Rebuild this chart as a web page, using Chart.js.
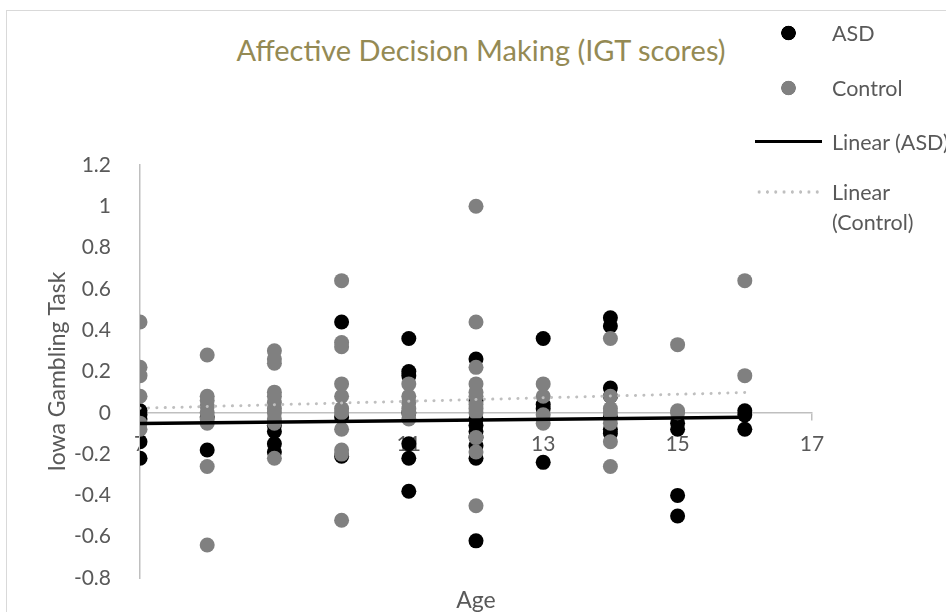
<!DOCTYPE html>
<html>
<head>
<meta charset="utf-8">
<script src="https://cdn.jsdelivr.net/npm/chart.js@4.4.1/dist/chart.umd.min.js"></script>
<style>
  html, body { margin: 0; padding: 0; background: #fff; }
  #wrap { position: relative; width: 946px; height: 612px; overflow: hidden; font-family: Lato, sans-serif; }
  #frame { position: absolute; left: 6px; top: 10px; width: 1200px; height: 900px; border: 1px solid #d9d9d9; }
  #chartTitle { position: absolute; left: 0; width: 962px; top: 32px; text-align: center; font-size: 29px; line-height: 36px; color: #948a54; white-space: nowrap; }
  #legend { position: absolute; left: 0; top: 0; }
  .item { position: absolute; left: 755px; height: 24px; white-space: nowrap; color: #595959; font-size: 21.5px; }
  .item .mark { position: absolute; left: 0; top: 0; width: 67px; height: 24px; }
  .item .txt { position: absolute; left: 77px; top: 0; line-height: 24px; }
  canvas { position: absolute; left: 0; top: 0; }
</style>
</head>
<body>
<div id="wrap">
  <div id="frame"></div>
  <div id="chartTitle">Affective Decision Making (IGT scores)</div>
  <canvas id="igtChart" width="946" height="612"></canvas>
  <div id="legend"></div>
</div>
<script>
// IGT scores, one list per age
const ages = [7, 8, 9, 10, 11, 12, 13, 14, 15, 16];
const asdScores = [
  [0.01, -0.01, -0.03, -0.14, -0.22],
  [-0.02, -0.18],
  [-0.06, -0.09, -0.15, -0.19],
  [0.44, -0.02, -0.21],
  [0.36, 0.20, 0.18, 0.0, -0.15, -0.22, -0.38],
  [0.26, 0.06, -0.03, -0.06, -0.09, -0.12, -0.16, -0.22, -0.62],
  [0.36, 0.04, 0.02, -0.24],
  [0.46, 0.42, 0.12, 0.08, -0.02, -0.08, -0.10],
  [-0.05, -0.08, -0.40, -0.50],
  [0.01, -0.01, -0.08]
];
const controlScores = [
  [0.44, 0.22, 0.18, 0.08, -0.05, -0.08],
  [0.28, 0.08, 0.06, 0.03, 0.0, -0.03, -0.05, -0.26, -0.64],
  [0.30, 0.26, 0.24, 0.10, 0.08, 0.05, 0.02, 0.0, -0.03, -0.05, -0.22],
  [0.64, 0.34, 0.32, 0.14, 0.08, 0.02, 0.0, -0.08, -0.18, -0.20, -0.52],
  [0.14, 0.08, 0.05, 0.02, 0.0, -0.03],
  [1.0, 0.44, 0.22, 0.14, 0.10, 0.08, 0.04, 0.02, 0.0, -0.12, -0.19, -0.45],
  [0.14, 0.08, -0.01, -0.05],
  [0.36, 0.08, 0.02, 0.0, -0.05, -0.14, -0.26],
  [0.33, 0.01, 0.0],
  [0.64, 0.18]
];

// trendline ends (Excel linear fits)
const trendAges = [7, 16];
const asdTrend = [-0.052, -0.022];
const controlTrend = [0.022, 0.098];

const xTicks = [7, 9, 11, 13, 15, 17];
const yTicks = [-0.8, -0.6, -0.4, -0.2, 0, 0.2, 0.4, 0.6, 0.8, 1, 1.2];

function toPoints(lists) {
  let pts = [];
  lists.forEach((list, i) => {
    list.forEach(v => pts.push({ x: ages[i], y: v }));
  });
  return pts;
}

const textGrey = '#595959';
const axisGrey = '#bfbfbf';

const ctx = document.getElementById('igtChart').getContext('2d');
const chart = new Chart(ctx, {
  type: 'scatter',
  data: {
    datasets: [
      {
        label: 'ASD',
        data: toPoints(asdScores),
        backgroundColor: '#000000',
        pointRadius: 7.5,
        pointBorderWidth: 0,
        order: 3
      },
      {
        label: 'Control',
        data: toPoints(controlScores),
        backgroundColor: '#808080',
        pointRadius: 7.5,
        pointBorderWidth: 0,
        order: 2
      },
      {
        type: 'line',
        label: 'Linear (ASD)',
        data: trendAges.map((a, i) => ({ x: a, y: asdTrend[i] })),
        borderColor: '#000000',
        borderWidth: 3.5,
        pointRadius: 0,
        order: 1
      },
      {
        type: 'line',
        label: 'Linear (Control)',
        data: trendAges.map((a, i) => ({ x: a, y: controlTrend[i] })),
        borderColor: '#bfbfbf',
        borderWidth: 3,
        borderDash: [0.1, 8.3],
        borderCapStyle: 'round',
        pointRadius: 0,
        order: 0
      }
    ]
  },
  options: {
    responsive: false,
    animation: false,
    events: [],
    layout: { padding: { top: 165, right: 134, left: 0, bottom: 0 } },
    plugins: {
      legend: { display: false },
      title: { display: false },
      tooltip: { enabled: false }
    },
    scales: {
      x: {
        type: 'linear',
        position: { y: 0 },
        min: 7,
        max: 17,
        z: 1,
        afterBuildTicks: s => { s.ticks = xTicks.map(v => ({ value: v })); },
        grid: { drawOnChartArea: false, drawTicks: true, tickLength: 7, color: axisGrey, lineWidth: 1.5 },
        border: { color: axisGrey, width: 1.5 },
        ticks: { color: textGrey, font: { family: 'Lato', size: 21 }, padding: 12, maxRotation: 0 }
      },
      xTitle: {
        type: 'linear',
        position: 'bottom',
        min: 7,
        max: 17,
        afterFit: s => { s.height = 34; },
        grid: { display: false },
        border: { display: false },
        ticks: { display: false },
        title: { display: true, text: 'Age', color: textGrey, font: { family: 'Lato', size: 23 }, padding: { top: 0, bottom: -2 } }
      },
      y: {
        type: 'linear',
        min: -0.8,
        max: 1.2,
        afterBuildTicks: s => { s.ticks = yTicks.map(v => ({ value: v })); },
        afterFit: s => { s.width = 140; },
        grid: { display: false },
        border: { color: axisGrey, width: 1.5 },
        ticks: {
          color: textGrey,
          font: { family: 'Lato', size: 21 },
          padding: 21,
          callback: v => String(Math.round(v * 10) / 10)
        },
        title: { display: true, text: 'Iowa Gambling Task', color: textGrey, font: { family: 'Lato', size: 23 }, padding: { top: 44, bottom: 0 } }
      }
    }
  }
});

// Excel-style legend on the right, built from the datasets
const legendRows = [33, 88, 142, 192];
const legendBox = document.getElementById('legend');
chart.data.datasets.forEach((ds, i) => {
  const item = document.createElement('div');
  item.className = 'item';
  item.style.top = (legendRows[i] - 12) + 'px';
  const mark = document.createElement('div');
  mark.className = 'mark';
  if (ds.type === 'line') {
    if (ds.borderDash) {
      mark.style.background = 'radial-gradient(circle, ' + ds.borderColor + ' 1.4px, transparent 1.9px) 0 50% / 8.3px 6px repeat-x';
      mark.style.height = '6px';
      mark.style.top = '9px';
    } else {
      mark.style.height = '0';
      mark.style.top = '10px';
      mark.style.borderTop = ds.borderWidth + 'px solid ' + ds.borderColor;
    }
  } else {
    mark.style.background = 'radial-gradient(circle, ' + ds.backgroundColor + ' 7px, transparent 7.6px) center / 67px 24px no-repeat';
  }
  const txt = document.createElement('div');
  txt.className = 'txt';
  if (ds.label === 'Linear (Control)') {
    txt.innerHTML = 'Linear<br>(Control)';
    txt.style.lineHeight = '30px';
    txt.style.top = '-3px';
  } else {
    txt.textContent = ds.label;
  }
  item.appendChild(mark);
  item.appendChild(txt);
  legendBox.appendChild(item);
});
</script>
</body>
</html>
